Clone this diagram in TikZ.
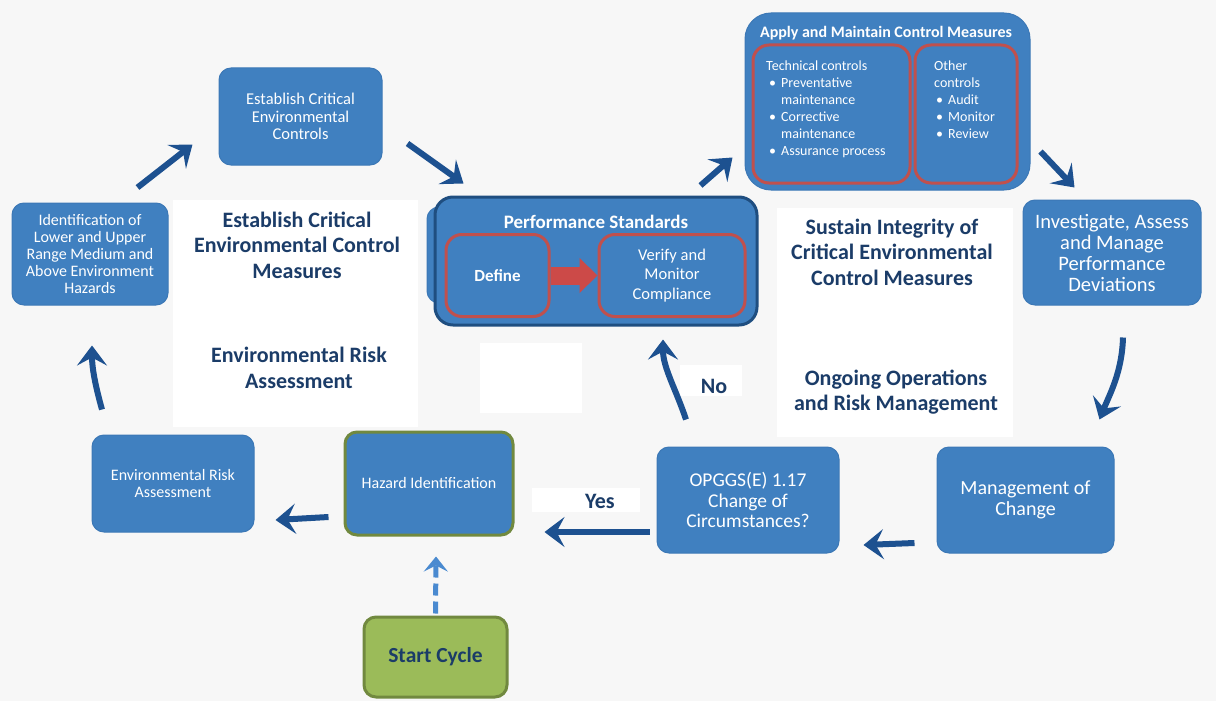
\documentclass[tikz,border=0pt]{standalone}
\usepackage{fontspec}
\setmainfont{Carlito}
\usetikzlibrary{arrows.meta,calc}
\definecolor{bgc}{HTML}{F7F7F7}
\definecolor{boxblue}{HTML}{4080C0}
\definecolor{boxedge}{HTML}{3C78B6}
\definecolor{perfedge}{HTML}{1F4E80}
\definecolor{navy}{HTML}{1B3C68}
\definecolor{arrowblue}{HTML}{1D5190}
\definecolor{lightarrow}{HTML}{4A8AD0}
\definecolor{redline}{HTML}{C0504D}
\definecolor{redarrow}{HTML}{CC4A48}
\definecolor{greenfill}{HTML}{9BBB59}
\definecolor{greenedge}{HTML}{71893F}
\newcommand\fsz[2]{\fontsize{#1}{#2}\selectfont}
\tikzset{
  box/.style={rounded corners=12pt, fill=boxblue, draw=boxedge, line width=1pt,
    text=white, align=center, inner sep=2pt},
  redbox/.style={rounded corners=16pt, draw=redline, line width=3pt, text=white,
    align=center, inner sep=2pt},
  biglabel/.style={text=navy, align=center, font=\bfseries\fsz{22}{25.5}},
  flow/.style={draw=arrowblue, line width=6pt,
    -{Stealth[length=20pt, width=30pt, inset=8pt]}},
  dashflow/.style={draw=lightarrow, line width=5pt, dash pattern=on 12pt off 6pt,
    -{Stealth[length=15pt, width=24pt, inset=6pt]}},
}
\begin{document}
\begin{tikzpicture}[x=1pt,y=-1pt]
\useasboundingbox (0,0) rectangle (1216,701);
\fill[bgc] (0,0) rectangle (1216,701);
% white patches
\fill[white] (173,200) rectangle (418,427);
\fill[white] (480,343) rectangle (582,413);
\fill[white] (777,208) rectangle (1013,437);
\fill[white] (680,365) rectangle (742,396);
\fill[white] (532,488) rectangle (640,512);

% labels
\node[biglabel] (estab) at (297,245) {Establish Critical\\Environmental Control\\Measures};
\node[biglabel] (erisk) at (299,368) {Environmental Risk\\Assessment};
\node[biglabel] (sustain) at (892,252) {Sustain Integrity of\\Critical Environmental\\Control Measures};
\node[biglabel] (ongoing) at (896,392) {Ongoing Operations\\and Risk Management};
\node[biglabel] (no) at (714,386) {No};
\node[biglabel] (yes) at (600,501) {Yes};

% boxes
\node[box, minimum width=163pt, minimum height=97pt, font=\fsz{16.5}{17.5}] (ctrl) at (300.5,116.5)
  {Establish Critical\\Environmental\\Controls};
\node[box, minimum width=156pt, minimum height=102pt, font=\fsz{16}{17}] (ident) at (90,254)
  {Identification of\\Lower and Upper\\Range Medium and\\Above Environment\\Hazards};
\node[box, minimum width=162pt, minimum height=97pt, font=\fsz{16}{17.5}] (era) at (173,483.5)
  {Environmental Risk\\Assessment};
\node[box, minimum width=168pt, minimum height=103pt, draw=greenedge, line width=3pt, font=\fsz{16}{17.5}] (haz) at (429,483.5)
  {Hazard Identification};
\node[box, minimum width=143pt, minimum height=80pt, fill=greenfill, draw=greenedge, line width=3pt,
  text=navy, font=\bfseries\fsz{21.5}{24}] (start) at (435.5,657) {Start Cycle};
\node[box, minimum width=182pt, minimum height=106pt, font=\fsz{19.5}{20.5}] (opg) at (748,500)
  {OPGGS(E) 1.17\\Change of\\Circumstances?};
\node[box, minimum width=177pt, minimum height=106pt, font=\fsz{20}{21}] (moc) at (1025.5,500)
  {Management of\\Change};
\node[box, minimum width=178pt, minimum height=105pt, font=\fsz{20.5}{21}] (inv) at (1112,252.5)
  {Investigate, Assess\\and Manage\\Performance\\Deviations};

% apply and maintain
\node[box, rounded corners=26pt, minimum width=285pt, minimum height=177pt, draw=boxedge] (apply) at (887.5,101.5) {};
\node[text=white, font=\bfseries\fsz{16}{18}] (applyt) at (886,33) {Apply and Maintain Control Measures};
\node[redbox, minimum width=157pt, minimum height=138pt] (tech) at (831.5,114) {};
\node[redbox, minimum width=102pt, minimum height=138pt] (other) at (966,114) {};
\node[anchor=north west, inner sep=0pt, text=white, font=\fsz{14}{17}] (techt) at (766,58)
  {\begin{tabular}{@{\hspace{0pt}}l@{\hspace{5pt}}l@{}}
   \multicolumn{2}{@{}l@{}}{Technical controls}\\
   \hspace{3pt}\textbullet & Preventative\\
   & maintenance\\
   \hspace{3pt}\textbullet & Corrective\\
   & maintenance\\
   \hspace{3pt}\textbullet & Assurance process
   \end{tabular}};
\node[anchor=north west, inner sep=0pt, text=white, font=\fsz{14}{17}] (othert) at (934,58)
  {\begin{tabular}{@{}l@{\hspace{5pt}}l@{}}
   \multicolumn{2}{@{}l@{}}{Other}\\
   \multicolumn{2}{@{}l@{}}{controls}\\
   \hspace{2pt}\textbullet & Audit\\
   \hspace{2pt}\textbullet & Monitor\\
   \hspace{2pt}\textbullet & Review
   \end{tabular}};

% performance standards
\filldraw[fill=boxblue, draw=boxedge, line width=1pt, rounded corners=12pt] (427,207) rectangle (600,303);
\node[box, rounded corners=18pt, minimum width=322pt, minimum height=128pt, draw=perfedge, line width=3pt] (perf) at (596,261) {};
\node[text=white, font=\bfseries\fsz{19}{21}] (perft) at (596,222) {Performance Standards};
\node[redbox, minimum width=103pt, minimum height=82pt, font=\bfseries\fsz{17}{19}] (define) at (497.5,275.5) {Define};
\node[redbox, minimum width=146pt, minimum height=82pt, font=\fsz{16.5}{19.5}] (verify) at (672,275.5)
  {Verify and\\Monitor\\Compliance};
\draw[draw=redarrow, line width=18pt, -{Triangle[length=18pt, width=34pt]}] (define.east) -- (verify.west);

% connectors
\draw[flow] ([shift={(-31,-15)}]ident.north east) -- ([shift={(-26,-21)}]ctrl.south west);
\draw[flow] ([shift={(25,-22)}]ctrl.south east) -- ([shift={(30,-12)}]perf.north west);
\draw[flow] ([shift={(-58,-10)}]perf.north east) -- ([shift={(-12,-33)}]apply.south west);
\draw[flow] ([shift={(10,50)}]apply.east) -- ([shift={(52,-12)}]inv.north west);
\draw[flow] ([shift={(11,32)}]inv.south) .. controls +(-1,35) and +(10,-25) .. ([shift={(74,-27)}]moc.north);
\draw[flow] ([shift={(-22,43)}]moc.west) -- ([shift={(24,45)}]opg.east);
\draw[flow] ([shift={(-62,-27)}]opg.north) .. controls +(-10,-30) and +(0,28) .. ([shift={(67,13)}]perf.south);
\draw[flow] ([shift={(-7,32)}]opg.west) -- ([shift={(30,48.5)}]haz.east);
\draw[flow] ([shift={(-15,33.5)}]haz.west) -- ([shift={(21,36.5)}]era.east);
\draw[flow] ([shift={(-71,-25)}]era.north) .. controls +(-7,-25) and +(0,22) .. ([shift={(2,40)}]ident.south);
\draw[dashflow] ([shift={(0,-2)}]start.north) -- ([shift={(7,20)}]haz.south);
\end{tikzpicture}
\end{document}
